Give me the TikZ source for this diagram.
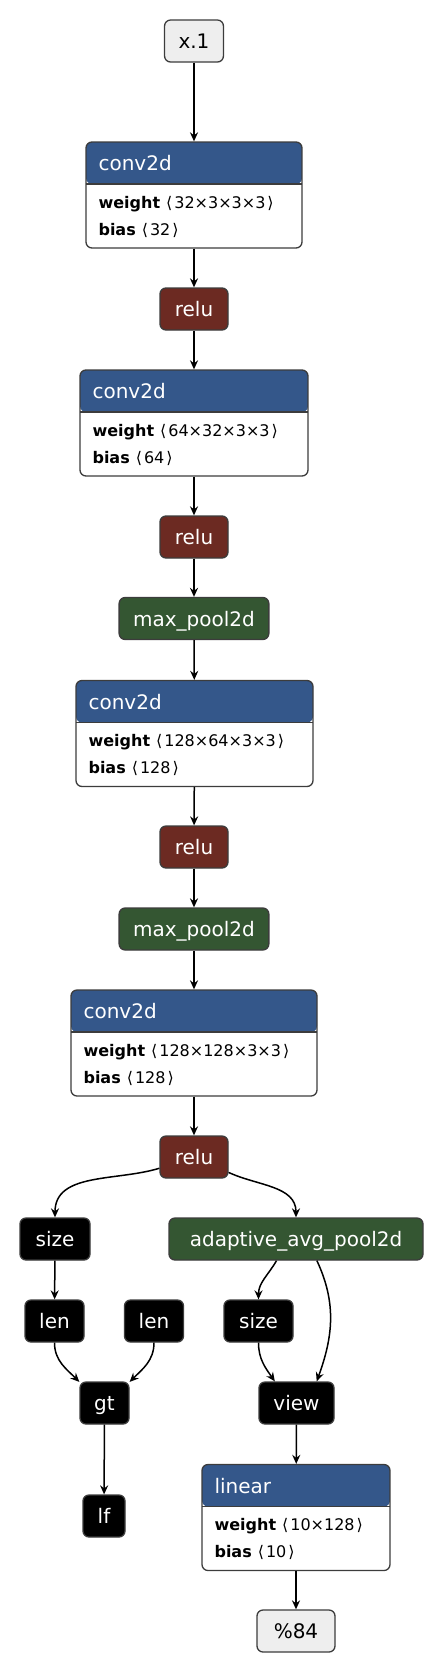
\documentclass[tikz,border=0pt]{standalone}
\usepackage{fontspec}
\setmainfont{DejaVu Sans}
\usetikzlibrary{arrows.meta}
\definecolor{layerblue}{HTML}{34578A}
\definecolor{relured}{HTML}{6C2A22}
\definecolor{poolgreen}{HTML}{345632}
\definecolor{iogray}{HTML}{EEEEEE}
\definecolor{boxline}{HTML}{3C3C3C}
\newcommand{\shp}[1]{\hspace{6pt}⟨\hspace{2pt}#1\hspace{2pt}⟩}

\begin{document}
\begin{tikzpicture}[x=1pt,y=1pt,
  box/.style={draw=boxline, line width=1.3pt, rounded corners=6pt, minimum height=42pt,
    inner xsep=14pt, inner ysep=0pt, text height=15pt, text depth=0pt,
    font=\fontsize{20}{24}\selectfont, text=white},
  relubox/.style={box, fill=relured},
  poolbox/.style={box, fill=poolgreen},
  opbox/.style={box, fill=black},
  iobox/.style={box, fill=iogray, text=black},
  layer/.style={draw=boxline, line width=1.3pt, rounded corners=6pt, fill=white,
    minimum width=#1, minimum height=106pt,
    path picture={
      \fill[layerblue] (path picture bounding box.north west) rectangle ([yshift=-42pt]path picture bounding box.north east);
      \draw[boxline, line width=1.3pt] ([yshift=-42pt]path picture bounding box.north west) -- ([yshift=-42pt]path picture bounding box.north east);}},
  layertitle/.style={anchor=west, inner sep=0pt, text=white, text height=15pt, text depth=0pt,
    font=\fontsize{20}{24}\selectfont},
  paramtext/.style={anchor=west, inner sep=0pt, text height=12pt, text depth=0pt,
    font=\fontsize{16}{19}\selectfont},
  flow/.style={line width=1.5pt, -{Stealth[length=9pt,width=8pt,inset=3pt]}}]
\useasboundingbox (0,0) rectangle (444,-1674);

% input
\node[iobox] (x1) at (194,-41) {x.1};

% conv block 1
\node[layer=216pt] (conv1) at (194,-195) {};
\node[layertitle] (conv1t) at ([xshift=13pt,yshift=-22pt]conv1.north west) {conv2d};
\node[paramtext] (conv1w) at ([xshift=13pt,yshift=-61pt]conv1.north west) {\textbf{weight}\shp{32×3×3×3}};
\node[paramtext] (conv1b) at ([xshift=13pt,yshift=-88pt]conv1.north west) {\textbf{bias}\shp{32}};
\node[relubox, minimum width=68pt] (relu1) at (194,-309) {relu};

% conv block 2
\node[layer=228pt] (conv2) at (194,-423) {};
\node[layertitle] (conv2t) at ([xshift=13pt,yshift=-22pt]conv2.north west) {conv2d};
\node[paramtext] (conv2w) at ([xshift=13pt,yshift=-61pt]conv2.north west) {\textbf{weight}\shp{64×32×3×3}};
\node[paramtext] (conv2b) at ([xshift=13pt,yshift=-88pt]conv2.north west) {\textbf{bias}\shp{64}};
\node[relubox, minimum width=68pt] (relu2) at (194,-537) {relu};
\node[poolbox] (pool1) at (194,-618.5) {max\_pool2d};

% conv block 3
\node[layer=237pt] (conv3) at (194.5,-733.5) {};
\node[layertitle] (conv3t) at ([xshift=13pt,yshift=-22pt]conv3.north west) {conv2d};
\node[paramtext] (conv3w) at ([xshift=13pt,yshift=-61pt]conv3.north west) {\textbf{weight}\shp{128×64×3×3}};
\node[paramtext] (conv3b) at ([xshift=13pt,yshift=-88pt]conv3.north west) {\textbf{bias}\shp{128}};
\node[relubox, minimum width=68pt] (relu3) at (194,-847) {relu};
\node[poolbox] (pool2) at (194,-929) {max\_pool2d};

% conv block 4
\node[layer=246pt] (conv4) at (194,-1043) {};
\node[layertitle] (conv4t) at ([xshift=13pt,yshift=-22pt]conv4.north west) {conv2d};
\node[paramtext] (conv4w) at ([xshift=13pt,yshift=-61pt]conv4.north west) {\textbf{weight}\shp{128×128×3×3}};
\node[paramtext] (conv4b) at ([xshift=13pt,yshift=-88pt]conv4.north west) {\textbf{bias}\shp{128}};
\node[relubox, minimum width=68pt] (relu4) at (194,-1157) {relu};

% left branch
\node[opbox, minimum width=70pt] (size1) at (55,-1239) {size};
\node[opbox, minimum width=59pt] (len1) at (54.5,-1321) {len};
\node[opbox, minimum width=59pt] (len2) at (154,-1321) {len};
\node[opbox, minimum width=49pt] (gt) at (104.5,-1403) {gt};
\node[opbox, minimum width=42pt, inner xsep=0pt] (lf) at (104,-1516) {lf};

% right branch
\node[poolbox, minimum width=254pt] (avgpool) at (296,-1239) {adaptive\_avg\_pool2d};
\node[opbox, minimum width=69pt] (size2) at (258.5,-1321) {size};
\node[opbox, minimum width=75pt] (view) at (296.5,-1403) {view};
\node[layer=188pt] (fc) at (296,-1517.5) {};
\node[layertitle] (fct) at ([xshift=13pt,yshift=-22pt]fc.north west) {linear};
\node[paramtext] (fcw) at ([xshift=13pt,yshift=-61pt]fc.north west) {\textbf{weight}\shp{10×128}};
\node[paramtext] (fcb) at ([xshift=13pt,yshift=-88pt]fc.north west) {\textbf{bias}\shp{10}};
\node[iobox, minimum width=78pt] (out) at (296,-1631) {\%84};

% edges
\draw[flow] (x1) -- (conv1);
\draw[flow] (conv1) -- (relu1);
\draw[flow] (relu1) -- (conv2);
\draw[flow] (conv2) -- (relu2);
\draw[flow] (relu2) -- (pool1);
\draw[flow] (pool1) -- (conv3);
\draw[flow] (conv3) -- (relu3);
\draw[flow] (relu3) -- (pool2);
\draw[flow] (pool2) -- (conv4);
\draw[flow] (conv4) -- (relu4);
\draw[flow] (relu4.198) to[out=197,in=90] (size1.north);
\draw[flow] (relu4.-24) to[out=-25,in=90] (avgpool.north);
\draw[flow] (size1) -- (len1);
\draw[flow] (len1.south) to[out=-90,in=135] (gt.140);
\draw[flow] (len2.south) to[out=-90,in=45] (gt.40);
\draw[flow] (gt) -- (lf);
\draw[flow] (avgpool.228) to[out=240,in=90] (size2.north);
\draw[flow] (avgpool.-46) to[out=-65,in=70] (view.47);
\draw[flow] (size2.south) to[out=-90,in=125] (view.135);
\draw[flow] (view) -- (fc);
\draw[flow] (fc) -- (out);
\end{tikzpicture}
\end{document}
